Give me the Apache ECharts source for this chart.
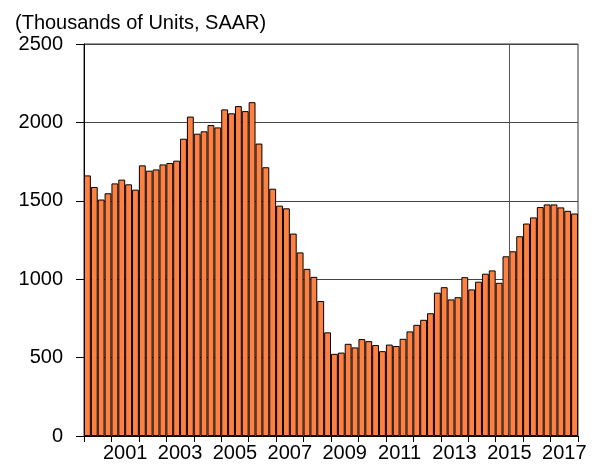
<!DOCTYPE html>
<html>
<head>
<meta charset="utf-8">
<script src="https://cdn.jsdelivr.net/npm/echarts@6/dist/echarts.min.js"></script>
<style>
  html, body { margin: 0; padding: 0; background: #fff; }
  #chart { width: 596px; height: 466px; }
</style>
</head>
<body>
<div id="chart"></div>
<script>
const years = ['2000', '2001', '2002', '2003', '2004', '2005', '2006', '2007', '2008',
  '2009', '2010', '2011', '2012', '2013', '2014', '2015', '2016', '2017']
const quarters = ['Q1', 'Q2', 'Q3', 'Q4']
const starts = [
  1662, 1588, 1508, 1548,
  1611, 1635, 1605, 1571,
  1726, 1692, 1700, 1732,
  1741, 1756, 1896, 2037,
  1928, 1943, 1983, 1968,
  2083, 2058, 2104, 2072,
  2129, 1865, 1714, 1577,
  1469, 1452, 1291, 1171,
  1066, 1015, 861, 661,
  524, 532, 588, 565,
  618, 605, 580, 541,
  583, 574, 620, 667,
  709, 741, 783, 914,
  949, 871, 885, 1013,
  935, 984, 1035, 1056,
  977, 1146, 1178, 1274,
  1355, 1394, 1460, 1477,
  1477, 1458, 1436, 1419
]
const markYear = '2015'
const yMax = 2500
const yStep = 500

const periods = years.flatMap((y) => quarters.map((q) => y + q))
const font = 'Liberation Sans, Arial, Helvetica, sans-serif'

const chart = echarts.init(document.getElementById('chart'))
chart.setOption({
  animation: false,
  title: {
    text: '(Thousands of Units, SAAR)',
    left: 10,
    top: 8,
    textStyle: { fontFamily: font, fontSize: 20, fontWeight: 'normal', color: '#000' }
  },
  grid: {
    left: 84, right: 18, top: 44, bottom: 30,
    show: true, borderColor: '#333', borderWidth: 1
  },
  xAxis: [
    {
      type: 'category',
      data: periods,
      axisLine: { show: false },
      axisTick: { show: false },
      axisLabel: { show: false }
    },
    {
      type: 'category',
      data: years,
      position: 'bottom',
      axisLine: { show: true, lineStyle: { color: '#000', width: 1 } },
      axisTick: { show: true, interval: 0, length: 6, lineStyle: { color: '#000' } },
      axisLabel: {
        interval: (i) => i % 2 === 1,
        margin: 7,
        fontFamily: font, fontSize: 20, color: '#000'
      },
      splitLine: { show: false }
    }
  ],
  yAxis: {
    type: 'value',
    min: 0,
    max: yMax,
    interval: yStep,
    axisLine: { show: true, lineStyle: { color: '#000' } },
    axisTick: { show: true, length: 8, lineStyle: { color: '#000' } },
    axisLabel: {
      margin: 21,
      formatter: (v) => String(v),
      fontFamily: font, fontSize: 20, color: '#000'
    },
    splitLine: { lineStyle: { color: '#444', width: 1 } }
  },
  series: [
    {
      type: 'bar',
      data: starts,
      barCategoryGap: 0,
      itemStyle: { color: '#ff8040', borderColor: '#000', borderWidth: 1 }
    },
    {
      type: 'line',
      xAxisIndex: 1,
      data: years.map(() => null),
      symbol: 'none',
      z: 5,
      markLine: {
        silent: true,
        symbol: 'none',
        label: { show: false },
        lineStyle: { color: '#555', type: 'solid', width: 1 },
        data: [{ xAxis: markYear }]
      }
    }
  ]
})
</script>
</body>
</html>
